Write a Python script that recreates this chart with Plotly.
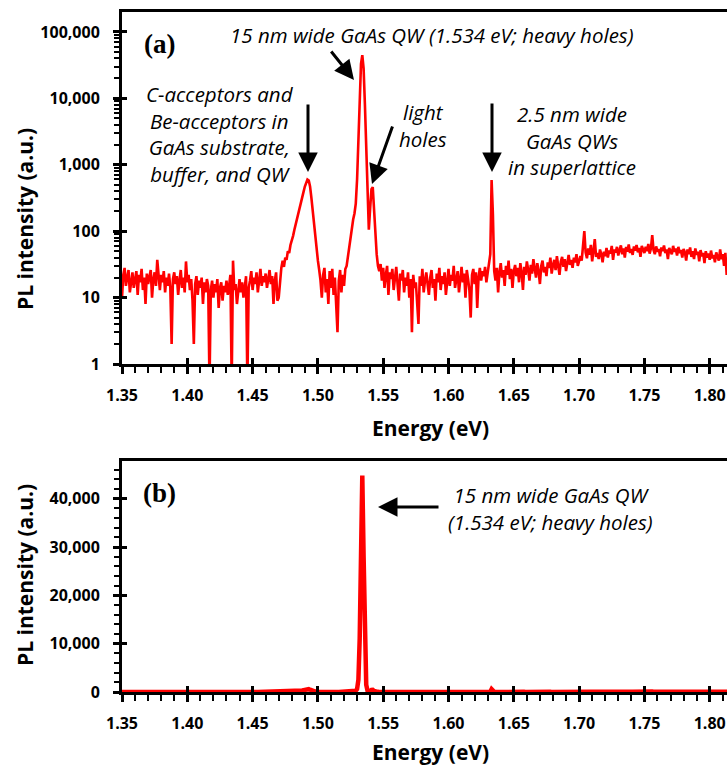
import numpy as np
import plotly.graph_objects as go

# ---------------- data (PL spectrum, 1 meV steps) ----------------
# 1.350 - 1.471 eV : low-energy background
seg_bg_low = [
    10, 22, 28, 15, 20, 26, 12, 18, 24, 14,
    19, 25, 11, 22, 17, 27, 13, 20, 8, 23,
    16, 21, 26, 10, 19, 24, 15, 37, 18, 13,
    22, 17, 25, 12, 20, 15, 23, 14, 2, 19,
    24, 16, 21, 11, 18, 26, 14, 20, 12, 35,
    17, 22, 13, 19, 9, 2, 16, 21, 11, 18,
    14, 20, 8, 17, 12, 19, 15, 0.5, 13, 18,
    10, 16, 12, 19, 7, 14, 17, 9, 15, 12,
    18, 11, 15, 22, 0.5, 36, 13, 16, 8, 14,
    19, 12, 17, 10, 15, 21, 0.5, 14, 18, 25,
    13, 20, 16, 24, 12, 19, 27, 15, 21, 17,
    23, 14, 19, 26, 16, 21, 8, 18, 24, 9,
    10, 20,
]
# 1.472 - 1.502 eV : C/Be acceptor band
seg_acceptor = [
    28, 36, 29, 40, 37, 50, 47, 62, 70, 85,
    105, 125, 150, 185, 220, 260, 320, 390, 470, 550,
    600, 580, 470, 320, 200, 125, 80, 52, 36, 26,
    18,
]
# 1.503 - 1.521 eV : valley
seg_valley = [
    10, 22, 28, 12, 19, 8, 25, 14, 27, 11,
    20, 9, 3, 18, 26, 12, 22, 15, 27,
]
# 1.522 - 1.546 eV : 15 nm QW (heavy + light holes)
seg_qw15 = [
    30, 42, 60, 85, 120, 150, 185, 260, 600, 2500,
    11000, 33000, 44800, 28000, 8000, 1500, 250, 105, 220, 430,
    460, 230, 80, 45, 30,
]
# 1.547 - 1.631 eV : background
seg_bg_mid = [
    25, 32, 18, 28, 14, 22, 30, 11, 24, 19,
    27, 13, 21, 29, 16, 9, 23, 18, 26, 12,
    20, 15, 24, 10, 19, 3, 22, 14, 17, 8,
    4, 21, 15, 27, 12, 18, 24, 16, 11, 20,
    26, 14, 19, 9, 23, 17, 28, 13, 21, 16,
    24, 11, 19, 27, 15, 22, 18, 30, 14, 21,
    25, 12, 20, 29, 17, 23, 10, 26, 19, 13,
    5, 22, 27, 16, 24, 7, 20, 28, 18, 25,
    21, 29, 17, 24, 32,
]
# 1.632 - 1.635 eV : 2.5 nm QWs in superlattice
seg_qw25 = [45, 590, 180, 25]
# 1.636 - 1.700 eV
seg_bg_rise = [
    18, 28, 12, 24, 33, 20, 26, 15, 30, 22,
    36, 19, 27, 14, 25, 31, 21, 28, 17, 33,
    24, 13, 29, 22, 35, 26, 18, 31, 23, 38,
    27, 20, 33, 25, 16, 30, 36, 24, 29, 21,
    34, 28, 40, 23, 31, 37, 26, 42, 30, 22,
    35, 41, 29, 38, 25, 33, 44, 31, 37, 28,
    40, 34, 45, 30, 38,
]
# 1.701 - 1.814 eV
seg_bg_high = [
    42, 36, 60, 100, 48, 39, 55, 44, 62, 35,
    50, 76, 41, 47, 38, 53, 45, 34, 49, 42,
    56, 40, 51, 46, 60, 37, 53, 48, 58, 43,
    52, 61, 45, 55, 40, 58, 49, 63, 47, 54,
    44, 59, 51, 62, 48, 56, 41, 60, 53, 47,
    58, 50, 64, 46, 55, 87, 52, 45, 59, 49,
    54, 42, 57, 50, 61, 47, 53, 38, 56, 51,
    45, 60, 49, 55, 43, 58, 47, 52, 40, 54,
    48, 36, 53, 45, 57, 41, 50, 38, 55, 44,
    49, 35, 52, 42, 47, 33, 50, 40, 46, 37,
    51, 39, 44, 34, 48, 41, 36, 53, 38, 45,
    30, 47, 22, 40,
]
segments = [
    (1.350, seg_bg_low), (1.472, seg_acceptor), (1.503, seg_valley),
    (1.522, seg_qw15), (1.547, seg_bg_mid), (1.632, seg_qw25),
    (1.636, seg_bg_rise), (1.701, seg_bg_high),
]
STEP = 0.001
energy, intensity = [], []
for e0, vals in segments:
    energy += [round(e0 + i * STEP, 4) for i in range(len(vals))]
    intensity += vals

x_ticks = [1.35, 1.40, 1.45, 1.50, 1.55, 1.60, 1.65, 1.70, 1.75, 1.80]
x_ticktext = ["1.35", "1.40", "1.45", "1.50", "1.55", "1.60", "1.65", "1.70", "1.75", "1.80"]
log_ticks = [1, 10, 100, 1000, 10000, 100000]
log_ticktext = ["1", "10", "100", "1,000", "10,000", "100,000"]
lin_ticks = [0, 10000, 20000, 30000, 40000]
lin_ticktext = ["0", "10,000", "20,000", "30,000", "40,000"]

# ---------------- layout geometry ----------------
W, H = 727, 767
def px(x): return x / W
def py(y): return 1 - y / H

X_LEFT = 122
top_dom = [py(364), py(12)]
bot_dom = [py(692), py(461)]
x_range = [1.35, 1.35 + (W - X_LEFT) / 1306]

TICKFONT = dict(family="Open Sans", size=16, color="black", weight=700)
ANNFONT = dict(family="Open Sans", size=20.5, color="black", style="italic")
TITLEFONT = dict(family="Open Sans", size=21, color="black", weight=700)

fig = go.Figure()
fig.add_trace(go.Scatter(x=energy, y=intensity, mode="lines", xaxis="x", yaxis="y",
                         line=dict(color="#FF0000", width=2.6), showlegend=False))
fig.add_trace(go.Scatter(x=energy, y=intensity, mode="lines", xaxis="x2", yaxis="y2",
                         line=dict(color="#FF0000", width=4.5), showlegend=False))
# invisible traces to carry the inside-tick overlay axes
fig.add_trace(go.Scatter(x=[None], y=[None], xaxis="x3", yaxis="y3", showlegend=False, hoverinfo="skip"))
fig.add_trace(go.Scatter(x=[None], y=[None], xaxis="x4", yaxis="y4", showlegend=False, hoverinfo="skip"))

minor_log = [m * 10 ** d for d in range(0, 6) for m in range(2, 10)]

base_x = dict(range=x_range, tickvals=x_ticks, ticktext=x_ticktext, showgrid=False,
              zeroline=False, showline=True, linecolor="black", linewidth=3,
              ticks="outside", ticklen=7, tickwidth=3, tickcolor="black",
              tickfont=TICKFONT, ticklabelstandoff=8, automargin=False,
              minor=dict(ticks="outside", ticklen=6, tickwidth=2, tickcolor="black",
                         dtick=0.01, tick0=1.35, showgrid=False))
overlay = dict(showticklabels=False, showline=False, showgrid=False, zeroline=False,
               ticks="inside", tickwidth=3, tickcolor="black", automargin=False)
fig.update_layout(
    width=W, height=H, margin=dict(l=0, r=0, t=0, b=0, autoexpand=False),
    paper_bgcolor="white", plot_bgcolor="white", showlegend=False,
    xaxis=dict(base_x, domain=[px(X_LEFT), 1], anchor="y", mirror=True),
    yaxis=dict(type="log", domain=top_dom, anchor="x", range=[0, 5.30],
               tickvals=log_ticks, ticktext=log_ticktext, showgrid=False, zeroline=False,
               showline=True, linecolor="black", linewidth=3, automargin=False,
               ticks="outside", ticklen=6, tickwidth=3, tickcolor="black",
               tickfont=TICKFONT, ticklabelstandoff=10,
               minor=dict(ticks="outside", ticklen=5, tickwidth=2, tickcolor="black",
                          tickvals=minor_log, showgrid=False)),
    xaxis2=dict(base_x, domain=[px(X_LEFT), 1], anchor="y2", mirror=True),
    yaxis2=dict(domain=bot_dom, anchor="x2", range=[0, 47800],
                tickvals=lin_ticks, ticktext=lin_ticktext, showgrid=False, zeroline=False,
                showline=True, linecolor="black", linewidth=3, automargin=False,
                ticks="outside", ticklen=6, tickwidth=3, tickcolor="black",
                tickfont=TICKFONT, ticklabelstandoff=10,
                minor=dict(ticks="outside", ticklen=5, tickwidth=2, tickcolor="black",
                           dtick=2000, tick0=0, showgrid=False)),
    xaxis3=dict(overlay, overlaying="x", anchor="y", range=x_range, tickvals=x_ticks, ticklen=6),
    yaxis3=dict(overlay, overlaying="y", anchor="x", type="log", range=[0, 5.30],
                tickvals=log_ticks, ticklen=5),
    xaxis4=dict(overlay, overlaying="x2", anchor="y2", range=x_range, tickvals=x_ticks, ticklen=6),
    yaxis4=dict(overlay, overlaying="y2", anchor="x2", range=[0, 47800],
                tickvals=lin_ticks, ticklen=5),
)

def text(x, y, s, font=ANNFONT, **kw):
    fig.add_annotation(x=px(x), y=py(y), xref="paper", yref="paper", text=s,
                       showarrow=False, font=font, xanchor="center", yanchor="middle", **kw)

def arrow(x0, y0, x1, y1):
    # tail at (x0, y0), tip at (x1, y1), in page pixels
    fig.add_annotation(x=px(x1), y=py(y1), xref="paper", yref="paper",
                       ax=x0 - x1, ay=y0 - y1, axref="pixel", ayref="pixel", text="",
                       showarrow=True, arrowhead=2, arrowsize=1.3, arrowwidth=3,
                       arrowcolor="black")

# axis titles
text(25, 219, "PL intensity (a.u.)", font=TITLEFONT, textangle=-90)
text(25, 575, "PL intensity (a.u.)", font=TITLEFONT, textangle=-90)
text(430, 428, "Energy (eV)", font=TITLEFONT)
text(430, 752, "Energy (eV)", font=TITLEFONT)

# panel labels
PANELFONT = dict(family="Liberation Serif", size=27, color="black", weight=700)
text(159, 44, "(a)", font=PANELFONT)
text(159, 493, "(b)", font=PANELFONT)

# panel (a) annotations
text(432, 35, "15 nm wide GaAs QW (1.534 eV; heavy holes)")
text(220, 134, "C-acceptors and<br>Be-acceptors in<br>GaAs substrate,<br>buffer, and QW")
text(423, 125, "light<br>holes")
text(572, 140, "2.5 nm wide<br>GaAs QWs<br>in superlattice")
arrow(308, 103, 308, 172)
arrow(330, 50, 354, 80)
arrow(393, 125, 372, 184)
arrow(492, 102, 492, 172)

# panel (b) annotations
text(550, 508, "15 nm wide GaAs QW<br>(1.534 eV; heavy holes)")
arrow(440, 507, 378, 507)

# remove the default 8px page margin so the 727x767 figure fills the window exactly
fig.write_html("out.html", config={"displayModeBar": False},
               post_script="document.body.style.margin='0';document.body.style.overflow='hidden';")
